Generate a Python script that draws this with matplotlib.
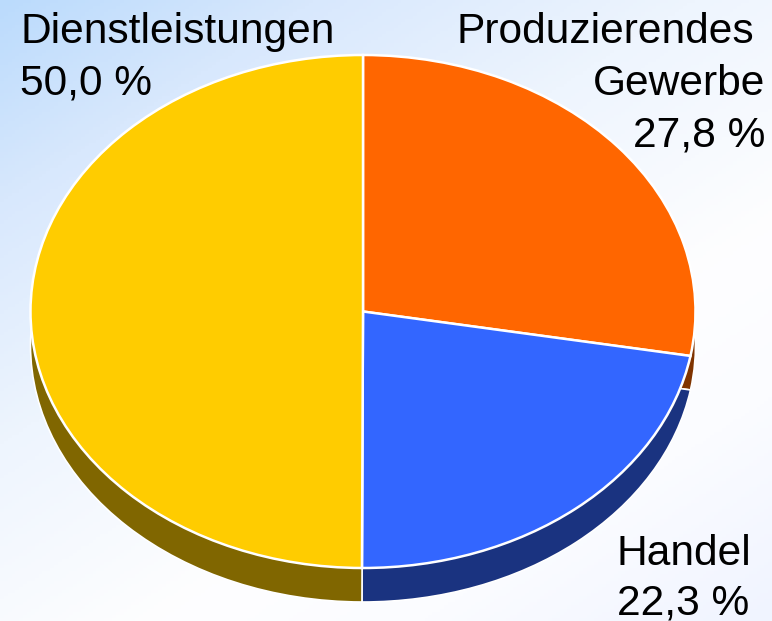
import numpy as np
import matplotlib
matplotlib.use("Agg")
import matplotlib.pyplot as plt
from matplotlib.colors import LinearSegmentedColormap

categories = ["Produzierendes\nGewerbe", "Handel", "Dienstleistungen"]
shares = [27.8, 22.3, 50.0]
share_labels = ["27,8 %", "22,3 %", "50,0 %"]
top_colors = ["#FF6600", "#3366FF", "#FFCC00"]
side_colors = ["#7F3300", "#1A3380", "#806600"]

W, H = 772, 621
CX, CY, RX, RY, DEPTH = 363, 311.5, 332.5, 256.5, 34
k = RY / RX

plt.rcParams["font.family"] = ["Liberation Sans", "DejaVu Sans"]
fig = plt.figure(figsize=(W / 100, H / 100), dpi=100)

# background gradient
bg = fig.add_axes([0, 0, 1, 1])
bg.axis("off")
yy, xx = np.mgrid[0:1:200j, 0:1:200j]
t = (xx * 0.62 + yy * 0.78) / 1.4
cmap = LinearSegmentedColormap.from_list(
    "bg",
    [(0, "#BBDBFC"), (0.18, "#D8E8FD"), (0.4, "#EEF5FE"),
     (0.65, "#FEFEFF"), (0.8, "#FBFCFF"), (1.0, "#F0F4FF")])
bg.imshow(t, cmap=cmap, vmin=0, vmax=1, extent=(0, 1, 1, 0), aspect="auto")

ax = fig.add_axes([0, 0, 1, 1], facecolor="none")


def pie(colors, dy, lw):
    ax.pie(shares, colors=colors, startangle=90, counterclock=False,
           center=(0, -dy / k), radius=RX,
           wedgeprops=dict(edgecolor="white", linewidth=lw))


pie(side_colors, DEPTH, 1.2)
pie(top_colors, 0, 1.8)
ax.set_aspect("auto")
ax.set_xlim(-CX, W - CX)
ax.set_ylim(-(H - CY) / k, CY / k)
ax.axis("off")

FS = 30.6


def label(x, y, s, ha):
    fig.text(x / W, 1 - y / H, s, fontsize=FS, ha=ha, va="baseline", color="black")


first, second = categories[0].split("\n")
label(20, 43, categories[2], "left")
label(20, 95, share_labels[2], "left")
label(754, 43, first, "right")
label(765, 95, second, "right")
label(765, 147, share_labels[0], "right")
label(617, 565, categories[1], "left")
label(617, 615, share_labels[1], "left")

fig.savefig("out.png", dpi=100)
